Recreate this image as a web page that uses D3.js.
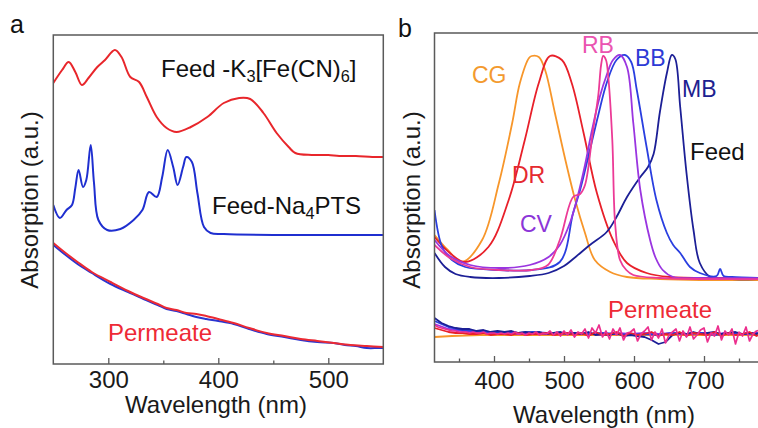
<!DOCTYPE html>
<html><head><meta charset="utf-8">
<script src="https://cdn.jsdelivr.net/npm/d3@7/dist/d3.min.js"></script>
<style>
html,body{margin:0;padding:0;background:#fff;}
svg{display:block;font-family:"Liberation Sans",Arial,sans-serif;}
</style></head>
<body><svg id="chart" width="758" height="428"></svg>
<script>
// ---------------- Panel a data ----------------
const aTicks = [300, 400, 500];
const aMinorTicks = [350, 450];
const aFeedK_wl  = [250,258,264,270,276,282,290,297,306,312,320,328,335,344,353,362,375,390,405,419,429,441,453,464,470,485,500,510,525,540,550];
const aFeedK_abs = [2.81,2.94,3.02,2.92,2.79,2.86,2.97,3.04,3.14,3.07,2.87,2.82,2.67,2.47,2.36,2.32,2.37,2.47,2.61,2.66,2.65,2.51,2.31,2.17,2.11,2.09,2.09,2.08,2.08,2.07,2.07];
const aFeedNa_wl  = [250,256,262,267,270,273,277,280,284,287,291,299,311,323,331,337,344,349,354,359,363,368,371,376,381,387,393,405,450,500,550];
const aFeedNa_abs = [1.59,1.46,1.54,1.59,1.76,1.94,1.77,1.84,2.19,1.81,1.44,1.34,1.35,1.44,1.54,1.72,1.67,1.87,2.14,1.97,1.79,1.97,2.07,2.02,1.71,1.37,1.31,1.30,1.29,1.29,1.29];
const aPermRed_wl  = [250,260,272,285,302,318,332,345,353,362,371,380,389,400,414,428,444,460,475,490,505,520,535,550];
const aPermRed_abs = [1.21,1.12,1.02,0.92,0.82,0.73,0.66,0.60,0.56,0.54,0.51,0.50,0.48,0.45,0.41,0.36,0.31,0.28,0.25,0.23,0.21,0.19,0.18,0.17];
const aPermBlue_wl  = [250,260,272,285,302,318,332,345,353,362,371,380,389,400,414,428,444,460,475,490,505,515,525,535,545,550];
const aPermBlue_abs = [1.19,1.10,1.00,0.91,0.80,0.72,0.65,0.59,0.55,0.53,0.50,0.47,0.45,0.43,0.40,0.35,0.30,0.27,0.24,0.22,0.21,0.19,0.18,0.16,0.16,0.16];

// ---------------- Panel b data ----------------
const bTicks = [400, 500, 600, 700];
const bMinorTicks = [350, 450, 550, 650, 750];
const bCG_wl  = [315,334,354,383,407,426,437,450,454,464,473,487,501,516,530,544,566,590,637,694,800];
const bCG_abs = [1.27,1.12,1.00,1.22,1.79,2.39,2.79,3.04,3.06,3.05,2.92,2.49,2.05,1.62,1.29,1.02,0.90,0.85,0.83,0.82,0.82];
const bDR_wl  = [315,337,359,392,421,444,464,480,497,511,528,547,570,590,618,651,723,800];
const bDR_abs = [1.25,1.09,1.00,1.15,1.62,2.22,2.79,3.06,3.02,2.79,2.29,1.69,1.22,0.99,0.89,0.85,0.84,0.84];
const bRB_wl  = [315,337,366,407,454,477,494,513,523,530,541,549,553,556,560,563,569,573,580,589,599,637,800];
const bRB_abs = [1.17,1.04,0.95,0.92,0.92,0.97,1.22,1.65,1.68,1.77,2.29,2.67,2.97,3.06,3.02,2.87,2.22,1.39,1.02,0.92,0.87,0.84,0.83];
const bCV_wl  = [315,337,366,407,451,478,494,509,520,530,540,551,561,570,580,590,599,609,623,631,641,656,694,800];
const bCV_abs = [1.22,1.06,0.97,0.94,0.97,1.05,1.17,1.40,1.67,1.97,2.32,2.65,2.87,3.02,3.07,2.95,2.39,1.72,1.22,1.04,0.92,0.85,0.84,0.84];
const bBB_wl  = [315,326,340,359,407,454,494,513,523,537,549,561,575,587,596,604,618,632,647,656,666,680,694,718,723,728,740,800];
const bBB_abs = [1.52,1.15,1.02,0.95,0.92,0.92,1.00,1.49,1.72,2.12,2.47,2.79,3.02,3.07,3.00,2.72,2.15,1.62,1.29,1.17,1.09,0.95,0.89,0.86,0.93,0.86,0.85,0.84];
const bMB_wl  = [315,330,345,366,407,451,478,500,513,537,561,575,590,609,620,628,637,647,654,659,666,675,685,694,709,740,800];
const bMB_abs = [1.09,0.95,0.88,0.85,0.84,0.86,0.89,0.96,1.03,1.17,1.30,1.45,1.65,1.85,1.95,2.08,2.50,2.89,3.07,3.03,2.55,1.89,1.32,0.99,0.85,0.83,0.83];

const bPermOrange_wl  = [315,340,380,440,500,560,620,680,740,800];
const bPermOrange_abs = [0.25,0.26,0.27,0.27,0.27,0.27,0.27,0.27,0.27,0.27];
const bPermPurple_wl  = [315,335,355,375,395,415,435,455,475,495,515,535,555,575,595,615,635,655,675,695,715,735,755,775,795];
const bPermPurple_abs = [0.38,0.33,0.31,0.30,0.29,0.29,0.28,0.29,0.28,0.29,0.28,0.29,0.27,0.29,0.28,0.29,0.28,0.29,0.28,0.29,0.28,0.29,0.28,0.29,0.28];
const bPermBlue_wl  = [315,335,355,375,395,415,435,455,475,495,515,535,555,575,595,615,635,655,675,695,715,735,755,775,795];
const bPermBlue_abs = [0.41,0.35,0.32,0.31,0.30,0.30,0.29,0.30,0.29,0.28,0.29,0.28,0.29,0.28,0.27,0.28,0.27,0.29,0.28,0.29,0.27,0.29,0.28,0.29,0.28];
const bPermNavy_wl  = [315,325,335,345,355,365,375,385,395,405,415,425,435,445,455,465,475,485,495,505,515,525,535,545,555,565,575,585,595,605,615,625,635,645,655,665,675,685,695,705,715,725,735,745,755,765,775,785,795];
const bPermNavy_abs = [0.44,0.39,0.36,0.34,0.33,0.33,0.31,0.32,0.30,0.31,0.30,0.31,0.29,0.30,0.29,0.30,0.28,0.29,0.30,0.28,0.29,0.28,0.30,0.27,0.28,0.27,0.29,0.26,0.27,0.26,0.25,0.22,0.18,0.20,0.27,0.29,0.28,0.30,0.28,0.29,0.30,0.28,0.29,0.30,0.28,0.29,0.28,0.30,0.28];
const bPermRed_wl  = [315,325,335,345,355,365,375,385,395,405,415,425,435,445,455,465,475,485,495,505,515,525,535,545,555,565,575,585,595,605,615,625,635,645,655,665,675,685,695,705,715,725,735,745,755,765,775,785,795];
const bPermRed_abs = [0.34,0.32,0.30,0.29,0.29,0.28,0.28,0.29,0.27,0.28,0.28,0.27,0.29,0.27,0.28,0.28,0.29,0.27,0.28,0.29,0.27,0.29,0.26,0.30,0.27,0.28,0.30,0.26,0.29,0.27,0.28,0.30,0.26,0.28,0.27,0.30,0.26,0.29,0.28,0.27,0.30,0.26,0.29,0.27,0.28,0.30,0.26,0.29,0.27];
const bPermPink_wl  = [315,320,325,330,335,340,345,350,355,360,365,370,375,380,385,390,395,400,405,410,415,420,425,430,435,440,445,450,455,460,465,470,475,480,485,490,495,500,505,510,515,520,525,530,535,540,545,550,555,560,565,570,575,580,585,590,595,600,605,610,615,620,625,630,635,640,645,650,655,660,665,670,675,680,685,690,695,700,705,710,715,720,725,730,735,740,745,750,755,760,765,770,775,780,785,790,795,800];
const bPermPink_abs = [0.37,0.35,0.34,0.33,0.32,0.31,0.31,0.30,0.30,0.30,0.29,0.30,0.29,0.29,0.30,0.28,0.29,0.29,0.28,0.29,0.28,0.29,0.28,0.30,0.28,0.29,0.27,0.29,0.28,0.30,0.27,0.29,0.28,0.31,0.27,0.30,0.26,0.31,0.27,0.32,0.25,0.30,0.28,0.33,0.24,0.34,0.29,0.37,0.25,0.31,0.23,0.33,0.27,0.34,0.22,0.29,0.30,0.33,0.21,0.28,0.31,0.35,0.22,0.30,0.24,0.33,0.19,0.27,0.30,0.33,0.21,0.31,0.25,0.35,0.23,0.27,0.32,0.34,0.20,0.29,0.26,0.36,0.22,0.31,0.27,0.33,0.18,0.30,0.26,0.35,0.21,0.28,0.31,0.32,0.20,0.29,0.27,0.30];

// ---------------- Drawing ----------------
const svg = d3.select("#chart");
const FONT = '"Liberation Sans", Arial, sans-serif';
const frameColor = "#5a5a5a";

function zip(wl, ab){ return wl.map((w,i)=>({x:w, y:ab[i]})); }

function drawPanel(cfg){
  const g = svg.append("g");
  const x = d3.scaleLinear().domain(cfg.xDomain).range(cfg.xRange);
  const y = d3.scaleLinear().domain([0, 3.29]).range([cfg.bottom, cfg.top]);
  const clipId = "clip" + cfg.id;
  svg.append("clipPath").attr("id", clipId).append("rect")
    .attr("x", cfg.xRange[0]).attr("y", cfg.top)
    .attr("width", cfg.xRange[1]-cfg.xRange[0]).attr("height", cfg.bottom-cfg.top);
  const lines = g.append("g").attr("clip-path", `url(#${clipId})`);
  cfg.series.forEach(s=>{
    const line = d3.line().x(d=>x(d.x)).y(d=>y(d.y))
      .curve(s.smooth ? d3.curveCatmullRom.alpha(0.5) : d3.curveLinear);
    lines.append("path").datum(zip(s.wl, s.abs))
      .attr("fill","none").attr("stroke", s.color)
      .attr("stroke-width", s.width || 2).attr("stroke-linejoin","round")
      .attr("d", line);
  });
  // frame
  g.append("rect").attr("x", cfg.xRange[0]).attr("y", cfg.top)
    .attr("width", cfg.frameRight - cfg.xRange[0]).attr("height", cfg.bottom - cfg.top)
    .attr("fill","none").attr("stroke", frameColor).attr("stroke-width", 1.5);
  // axes
  const ax = g.append("g").attr("transform", `translate(0,${cfg.bottom})`)
    .call(d3.axisBottom(x).tickValues(cfg.ticks).tickSizeInner(-6).tickSizeOuter(0).tickPadding(cfg.pad).tickFormat(d3.format("d")));
  ax.select(".domain").remove();
  ax.selectAll("line").attr("stroke", frameColor).attr("stroke-width", 1.3);
  ax.selectAll("text").attr("font-family", FONT).attr("font-size", 24).attr("fill", "#1a1a1a");
  const mx = g.append("g").attr("transform", `translate(0,${cfg.bottom})`)
    .call(d3.axisBottom(x).tickValues(cfg.minor).tickSizeInner(-3.5).tickSizeOuter(0).tickFormat(""));
  mx.select(".domain").remove();
  mx.selectAll("line").attr("stroke", frameColor).attr("stroke-width", 1.3);
  // titles
  g.append("text").attr("x", cfg.titleX).attr("y", cfg.titleY)
    .attr("text-anchor","middle").attr("font-family", FONT).attr("font-size", 24).attr("fill","#1a1a1a")
    .text("Wavelength (nm)");
  g.append("text").attr("transform", `translate(${cfg.yTitleX},${cfg.yTitleY}) rotate(-90)`)
    .attr("text-anchor","middle").attr("font-family", FONT).attr("font-size", 24).attr("fill","#1a1a1a")
    .text("Absorption (a.u.)");
  g.append("text").attr("x", cfg.letterX).attr("y", cfg.letterY)
    .attr("font-family", FONT).attr("font-size", 25).attr("fill","#111").text(cfg.letter);
  return g;
}

function label(g, x, y, parts, color, size){
  const t = g.append("text").attr("x", x).attr("y", y)
    .attr("font-family", FONT).attr("font-size", size).attr("fill", color);
  let shift = 0;
  parts.forEach(p=>{
    const ts = t.append("tspan").text(p.t);
    if (p.sub){ ts.attr("font-size", size*0.68).attr("dy", 5 - shift); shift = 5; }
    else { if (shift){ ts.attr("dy", -shift); shift = 0; } }
  });
}

// Panel a
const gA = drawPanel({
  id:"A", xDomain:[250,550], xRange:[53.3,383.3], frameRight:383.3, top:35, bottom:364,
  ticks:aTicks, minor:aMinorTicks, pad:7,
  titleX:216, titleY:413, yTitleX:38, yTitleY:200, letter:"a", letterX:10, letterY:33,
  series:[
    {wl:aFeedK_wl, abs:aFeedK_abs, color:"#e8262b", smooth:true},
    {wl:aFeedNa_wl, abs:aFeedNa_abs, color:"#1f2fd0", smooth:true},
    {wl:aPermBlue_wl, abs:aPermBlue_abs, color:"#2a35d0", smooth:true},
    {wl:aPermRed_wl, abs:aPermRed_abs, color:"#ec2a33", smooth:true}
  ]
});
label(gA, 161, 77, [{t:"Feed -K"},{t:"3",sub:true},{t:"[Fe(CN)"},{t:"6",sub:true},{t:"]"}], "#111", 24);
label(gA, 212, 214, [{t:"Feed-Na"},{t:"4",sub:true},{t:"PTS"}], "#111", 24);
label(gA, 108, 341, [{t:"Permeate"}], "#ee2a36", 24);

// Panel b
const gB = drawPanel({
  id:"B", xDomain:[315,800], xRange:[434.5,774], frameRight:774, top:33, bottom:362,
  ticks:bTicks, minor:bMinorTicks, pad:10,
  titleX:604, titleY:423, yTitleX:420, yTitleY:200, letter:"b", letterX:398, letterY:37,
  series:[
    {wl:bPermOrange_wl, abs:bPermOrange_abs, color:"#f7962a", width:1.8},
    {wl:bPermPurple_wl, abs:bPermPurple_abs, color:"#9a35e0", width:1.8},
    {wl:bPermBlue_wl, abs:bPermBlue_abs, color:"#2a3fe0", width:1.8},
    {wl:bPermNavy_wl, abs:bPermNavy_abs, color:"#1c1f96", width:1.8},
    {wl:bPermRed_wl, abs:bPermRed_abs, color:"#e8202a", width:1.8},
    {wl:bPermPink_wl, abs:bPermPink_abs, color:"#ec2f8e", width:1.7},
    {wl:bCG_wl, abs:bCG_abs, color:"#f7962a", smooth:true, width:1.8},
    {wl:bDR_wl, abs:bDR_abs, color:"#e8202a", smooth:true, width:1.8},
    {wl:bMB_wl, abs:bMB_abs, color:"#1c1f96", smooth:true, width:1.8},
    {wl:bBB_wl, abs:bBB_abs, color:"#2a3fe0", smooth:true, width:1.8},
    {wl:bCV_wl, abs:bCV_abs, color:"#9a35e0", smooth:true, width:1.8},
    {wl:bRB_wl, abs:bRB_abs, color:"#ec3a96", smooth:true, width:1.8}
  ]
});
label(gB, 472, 83, [{t:"CG"}], "#f39a2e", 23);
label(gB, 512, 183, [{t:"DR"}], "#e52a2f", 23);
label(gB, 582, 53, [{t:"RB"}], "#ea54b0", 23);
label(gB, 635, 66, [{t:"BB"}], "#2d3ad6", 23);
label(gB, 682, 97, [{t:"MB"}], "#1d2190", 23);
label(gB, 690, 160, [{t:"Feed"}], "#111", 24);
label(gB, 520, 232, [{t:"CV"}], "#8c35d8", 23);
label(gB, 608, 318, [{t:"Permeate"}], "#ee2a36", 24);
</script></body></html>
